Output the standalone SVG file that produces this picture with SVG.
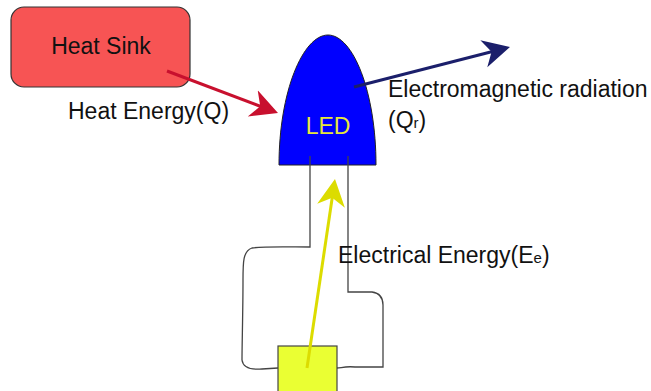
<svg xmlns="http://www.w3.org/2000/svg" width="651" height="391" viewBox="0 0 651 391">
<style>
text{font-family:"Liberation Sans",Arial,sans-serif;font-size:23px;fill:#111}
.wire{fill:none;stroke:#444;stroke-width:1.3}
.arr{fill:none;stroke-width:3}
</style>
<defs>
<marker id="mRed" markerUnits="userSpaceOnUse" markerWidth="28" markerHeight="30" viewBox="0 -15 28 30" refX="10" refY="0" orient="auto"><path d="M27,0 L0,-14 L8,0 L0,14 Z" fill="#c8102e"/></marker>
<marker id="mBlue" markerUnits="userSpaceOnUse" markerWidth="28" markerHeight="30" viewBox="0 -15 28 30" refX="10" refY="0" orient="auto"><path d="M27,0 L0,-14 L8,0 L0,14 Z" fill="#1b1f6b"/></marker>
<marker id="mYel" markerUnits="userSpaceOnUse" markerWidth="28" markerHeight="30" viewBox="0 -15 28 30" refX="10" refY="0" orient="auto"><path d="M27,0 L0,-14 L8,0 L0,14 Z" fill="#dcdc00"/></marker>
</defs>
<rect width="651" height="391" fill="#fff"/>
<g id="heat-sink">
<rect x="11" y="7" width="179" height="80" rx="13" fill="#f75454" stroke="#333" stroke-width="1.2"/>
<text x="101" y="54" text-anchor="middle" font-size="25.5">Heat Sink</text>
</g>
<g id="led">
<path d="M279,165 C279,92 303,35 328,35 C353,35 376,92 376,165 Z" fill="#0000ff" stroke="#222" stroke-width="1"/>
<text x="328" y="134" text-anchor="middle" font-size="25" style="fill:#e8e838">LED</text>
</g>
<g id="connectors">
<path class="wire" d="M310,156 L310,247 C292,247 265,246 252,248 C243,251 243,262 243,280 C243,310 242,345 242,360 C243,368 250,370 262,369 L278,368"/>
<path class="wire" d="M348,156 L348,292 L372,292 C380,293 383,298 383,305 L383,367 L355,367 C345,366 341,368 337,368"/>
</g>
<g id="source">
<rect x="278" y="346" width="59" height="50" fill="#eaff33" stroke="#444" stroke-width="1.2"/>
</g>
<g id="arrows">
<line class="arr" x1="167" y1="71" x2="262.1" y2="107" stroke="#c8102e" marker-end="url(#mRed)"/>
<line class="arr" x1="354" y1="87" x2="493.5" y2="51.2" stroke="#1b1f6b" marker-end="url(#mBlue)"/>
<line class="arr" x1="307" y1="368" x2="332.5" y2="195.8" stroke="#dcdc00" marker-end="url(#mYel)"/>
</g>
<g id="labels">
<text x="68" y="119">Heat Energy(Q)</text>
<text x="388" y="97">Electromagnetic radiation</text>
<text x="388" y="128">(Q<tspan font-size="15">r</tspan>)</text>
<text x="338" y="263">Electrical Energy(E<tspan font-size="15">e</tspan>)</text>
</g>
</svg>
